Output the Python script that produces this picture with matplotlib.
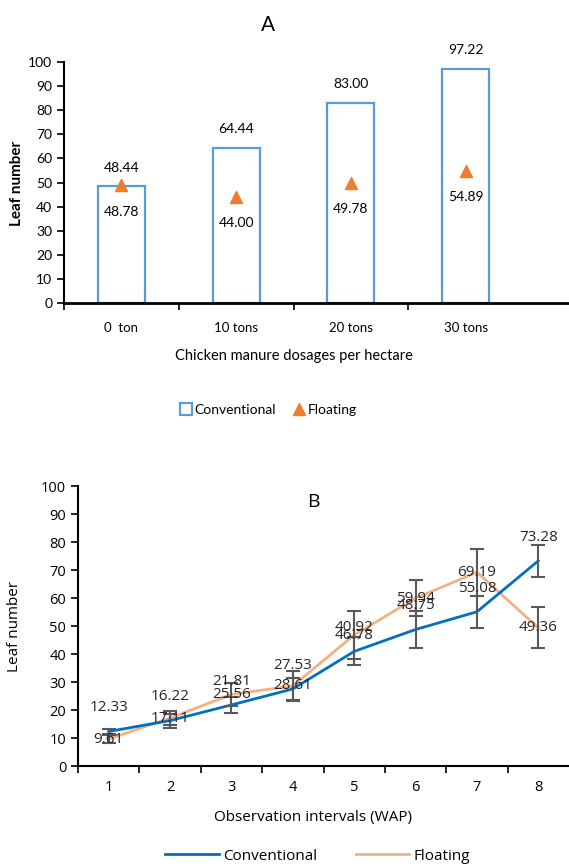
import numpy as np
import matplotlib
matplotlib.use('Agg')
import matplotlib.pyplot as plt
from matplotlib.lines import Line2D

# Panel A data
doses = ['0  ton', '10 tons', '20 tons', '30 tons']
conv_a = [48.44, 64.44, 83.00, 97.22]
float_a = [48.78, 44.00, 49.78, 54.89]

# Panel B data
weeks = ['1', '2', '3', '4', '5', '6', '7', '8']
conv_b = [12.33, 16.22, 21.81, 27.53, 40.92, 48.75, 55.08, 73.28]
float_b = [9.61, 17.11, 25.56, 28.61, 46.78, 59.94, 69.19, 49.36]
conv_err = [1.0, 2.5, 2.8, 4.0, 5.0, 6.5, 5.8, 5.7]
float_err = [1.5, 2.5, 4.0, 5.4, 8.6, 6.5, 8.3, 7.3]

blue_bar = '#5B9BD5'
orange_tri = '#ED7D31'
blue_line = '#0070C0'
orange_line = '#F4B183'
err_col = '#595959'

W, H = 569, 866
fig = plt.figure(figsize=(W / 100, H / 100), dpi=100)

def fx(px):
    return px / W

def fy(py):
    return 1 - py / H

# ---------------- Panel A ----------------
fa = 'Lato'
axA = fig.add_axes([fx(64), fy(303), fx(569 - 64), fy(62) - fy(303)])
xa = np.arange(len(doses))
axA.bar(xa, conv_a, width=0.41, facecolor='white', edgecolor=blue_bar, linewidth=1.6, zorder=2)
axA.scatter(xa, float_a, marker='^', s=75, color=orange_tri, zorder=3)
for i in range(len(doses)):
    axA.annotate(f'{conv_a[i]:.2f}', (xa[i], conv_a[i]), xytext=(0, 13.5), textcoords='offset points',
                 ha='center', va='center', fontsize=10, family=fa)
    axA.annotate(f'{float_a[i]:.2f}', (xa[i], float_a[i]), xytext=(0, -19), textcoords='offset points',
                 ha='center', va='center', fontsize=10, family=fa)
axA.set_xlim(-0.5, 3.9)
axA.set_ylim(0, 100)
axA.set_yticks(np.arange(0, 101, 10))
axA.set_xticks(xa)
axA.set_xticklabels(doses, family=fa, fontsize=9.5)
axA.set_xticks(np.arange(-0.5, 2.6, 1), minor=True)
axA.tick_params(axis='x', which='major', length=0, pad=14)
axA.tick_params(axis='x', which='minor', length=5, width=1.2)
axA.tick_params(axis='y', length=5, width=1.2, labelsize=10)
for lab in axA.get_yticklabels():
    lab.set_family(fa)
for s in ['top', 'right']:
    axA.spines[s].set_visible(False)
axA.spines['left'].set_linewidth(1.5)
axA.spines['bottom'].set_linewidth(2)

fig.text(fx(268), fy(25), 'A', ha='center', va='center', fontsize=15, family=fa)
fig.text(fx(17), fy(183), 'Leaf number', ha='center', va='center', rotation=90, fontsize=11,
         fontweight='bold', family=fa)
fig.text(fx(294), fy(356), 'Chicken manure dosages per hectare', ha='center', va='center',
         fontsize=10.5, family=fa)

handlesA = [Line2D([], [], marker='s', linestyle='none', markerfacecolor='white', markeredgecolor=blue_bar,
                   markersize=9, markeredgewidth=1.5),
            Line2D([], [], marker='^', linestyle='none', color=orange_tri, markersize=9)]
legA = fig.legend(handlesA, ['Conventional', 'Floating'], loc='center', bbox_to_anchor=(fx(268), fy(410)),
                  ncol=2, frameon=False, handletextpad=0.1, columnspacing=1.2, handlelength=1.0,
                  prop={'family': fa, 'size': 10})

# ---------------- Panel B ----------------
fb = 'Open Sans'
axB = fig.add_axes([fx(78), fy(766), fx(569 - 78), fy(486) - fy(766)])
xb = np.arange(1, len(weeks) + 1)
axB.plot(xb, conv_b, color=blue_line, linewidth=2, zorder=3, label='Conventional')
axB.plot(xb, float_b, color=orange_line, linewidth=2, zorder=2, label='Floating')
axB.errorbar(xb, conv_b, yerr=conv_err, fmt='none', ecolor=err_col, elinewidth=1.5, capsize=5,
             capthick=1.5, zorder=4)
axB.errorbar(xb, float_b, yerr=float_err, fmt='none', ecolor=err_col, elinewidth=1.5, capsize=5,
             capthick=1.5, zorder=4)
for i in range(len(weeks)):
    axB.annotate(f'{conv_b[i]:.2f}', (xb[i], conv_b[i]), xytext=(0, 17), textcoords='offset points',
                 ha='center', va='center', fontsize=11, family=fb, color='#262626', zorder=5)
    axB.annotate(f'{float_b[i]:.2f}', (xb[i], float_b[i]), xytext=(0, 0), textcoords='offset points',
                 ha='center', va='center', fontsize=11, family=fb, color='#262626', zorder=5)
axB.set_xlim(0.5, 8.5)
axB.set_ylim(0, 100)
axB.set_yticks(np.arange(0, 101, 10))
axB.set_xticks(xb)
axB.set_xticklabels(weeks, family=fb, fontsize=10.5)
axB.set_xticks(np.arange(0.5, 7.6, 1), minor=True)
axB.tick_params(axis='x', which='major', length=0, pad=10)
axB.tick_params(axis='x', which='minor', length=5, width=1.2)
axB.tick_params(axis='y', length=5, width=1.2, labelsize=10.5)
for lab in axB.get_yticklabels():
    lab.set_family(fb)
for s in ['top', 'right']:
    axB.spines[s].set_visible(False)
axB.spines['left'].set_linewidth(1.5)
axB.spines['bottom'].set_linewidth(1.5)

fig.text(fx(313), fy(502), 'B', ha='center', va='center', fontsize=14, family=fb)
fig.text(fx(15), fy(626), 'Leaf number', ha='center', va='center', rotation=90, fontsize=11, family=fb)
fig.text(fx(313), fy(818), 'Observation intervals (WAP)', ha='center', va='center', fontsize=11, family=fb)
fig.legend(loc='center', bbox_to_anchor=(fx(318), fy(856)), ncol=2, frameon=False,
           handlelength=3.5, handletextpad=0.3, columnspacing=2.5, prop={'family': fb, 'size': 11})

fig.savefig('out.png', dpi=100)
